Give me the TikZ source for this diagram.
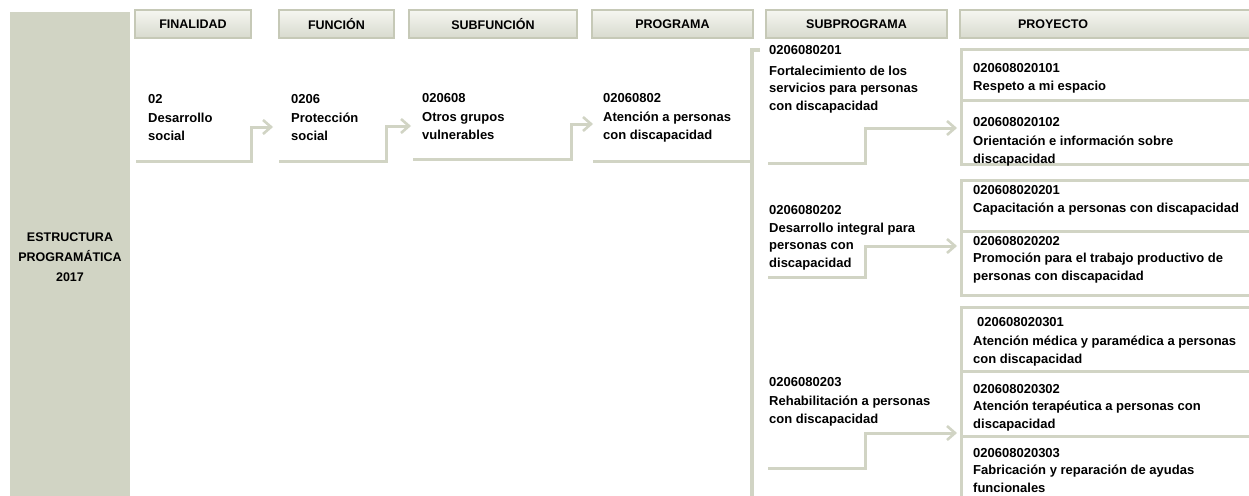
\documentclass[tikz,border=0pt]{standalone}
\usepackage{fontspec}
\setmainfont{Liberation Sans}
\usetikzlibrary{arrows.meta}
\definecolor{og}{HTML}{D1D4C4}
\definecolor{ogd}{HTML}{C6C9B7}
\definecolor{hdtop}{HTML}{F5F6F1}
\definecolor{hdbot}{HTML}{D8DACE}
\begin{document}
\begin{tikzpicture}[x=1pt,y=-1pt,
  hdr/.style={draw=ogd, line width=2pt, top color=hdtop, bottom color=hdbot,
    minimum height=28pt, inner sep=0pt, font=\bfseries\fontsize{12.5}{14}\selectfont},
  txt/.style={anchor=base west, inner sep=0pt, align=left,
    font=\bfseries\fontsize{13}{17.5}\selectfont},
  conn/.style={draw=og, line width=3pt, line join=miter,
    -{Straight Barb[length=8pt,width=14pt,line width=2.6pt]}},
  plain/.style={draw=og, line width=3pt},
  bx/.style={draw=og, line width=3pt}
]
\useasboundingbox (0,0) rectangle (1249,495);

% left panel
\fill[og] (10,12) rectangle (130,497);
\node[anchor=base, inner sep=0pt, align=center,
  font=\bfseries\fontsize{12.5}{20}\selectfont] (lbl) at (70,281)
  {ESTRUCTURA\\PROGRAMÁTICA\\2017};

% headers
\node[hdr, minimum width=116pt] (hfin) at (193,24) {FINALIDAD};
\node[hdr, minimum width=115pt] (hfun) at (336.5,24) {FUNCIÓN};
\node[hdr, minimum width=168pt] (hsfun) at (493,24) {SUBFUNCIÓN};
\node[hdr, minimum width=161pt] (hprog) at (672.5,24) {PROGRAMA};
\node[hdr, minimum width=181pt] (hsp) at (856.5,24) {SUBPROGRAMA};
\node[hdr, minimum width=296pt] (hproy) at (1108,24) {\hspace*{-110pt}PROYECTO};

% level texts (anchored at baseline of last line)
\node[txt] (fin) at (148,140) {02\\[1.5pt]Desarrollo\\social};
\node[txt] (fun) at (291,140) {0206\\[1.5pt]Protección\\social};
\node[txt] (sfun) at (422,139) {020608\\[1.5pt]Otros grupos\\vulnerables};
\node[txt] (prog) at (603,139) {02060802\\[1.5pt]Atención a personas\\con discapacidad};

\node[txt] (sp1) at (769,110) {0206080201\\[2.5pt]Fortalecimiento de los\\servicios para personas\\con discapacidad};
\node[txt] (sp2) at (769,267) {0206080202\\[0.5pt]Desarrollo integral para\\personas con\\discapacidad};
\node[txt] (sp3) at (769,423) {0206080203\\[1.5pt]Rehabilitación a personas\\con discapacidad};

% project boxes
\draw[bx] (1252,49.5) -- (961.5,49.5) -- (961.5,164) -- (1252,164);
\draw[bx] (961.5,100) -- (1252,100);
\draw[bx] (1252,180.5) -- (961.5,180.5) -- (961.5,295.5) -- (1252,295.5);
\draw[bx] (961.5,231) -- (1252,231);
\draw[bx] (1252,307.5) -- (961.5,307.5) -- (961.5,497);
\draw[bx] (961.5,371.5) -- (1252,371.5);
\draw[bx] (961.5,436) -- (1252,436);

% project texts
\node[txt] (p11) at (973,90) {020608020101\\Respeto a mi espacio};
\node[txt] (p12) at (973,163) {020608020102\\[1.5pt]Orientación e información sobre\\discapacidad};
\node[txt] (p21) at (973,212) {020608020201\\Capacitación a personas con discapacidad};
\node[txt] (p22) at (973,280) {020608020202\\Promoción para el trabajo productivo de\\personas con discapacidad};
\node[txt] (p31) at (973,363) {\hspace*{4pt}020608020301\\[1.5pt]Atención médica y paramédica a personas\\con discapacidad};
\node[txt] (p32) at (973,428) {020608020302\\Atención terapéutica a personas con\\discapacidad};
\node[txt] (p33) at (973,492) {020608020303\\Fabricación y reparación de ayudas\\funcionales};

% connector coordinates
\coordinate (c1s) at (136,161);   \coordinate (c1m) at (251,127);   \coordinate (c1e) at (273,127);
\coordinate (c2s) at (279,161);   \coordinate (c2m) at (386,126);   \coordinate (c2e) at (411,126);
\coordinate (c3s) at (413,159);   \coordinate (c3m) at (571,124);   \coordinate (c3e) at (593,124);
\coordinate (c4s) at (593,161);   \coordinate (c4e) at (752,161);
\coordinate (vtop) at (760,50);   \coordinate (vcor) at (752,50);   \coordinate (vbot) at (752,497);
\coordinate (s1s) at (768,163);   \coordinate (s1m) at (865,128);   \coordinate (s1e) at (957,128);
\coordinate (s2s) at (768,277);   \coordinate (s2m) at (865,246);   \coordinate (s2e) at (957,246);
\coordinate (s3s) at (768,468);   \coordinate (s3m) at (865,433);   \coordinate (s3e) at (957,433);

\draw[conn] (c1s) -| (c1m) -- (c1e);
\draw[conn] (c2s) -| (c2m) -- (c2e);
\draw[conn] (c3s) -| (c3m) -- (c3e);
\draw[plain] (c4s) -- (c4e);
\draw[draw=og, line width=4pt, line join=miter] (vtop) -- (vcor) -- (vbot);
\draw[conn] (s1s) -| (s1m) -- (s1e);
\draw[conn] (s2s) -| (s2m) -- (s2e);
\draw[conn] (s3s) -| (s3m) -- (s3e);
\end{tikzpicture}
\end{document}
